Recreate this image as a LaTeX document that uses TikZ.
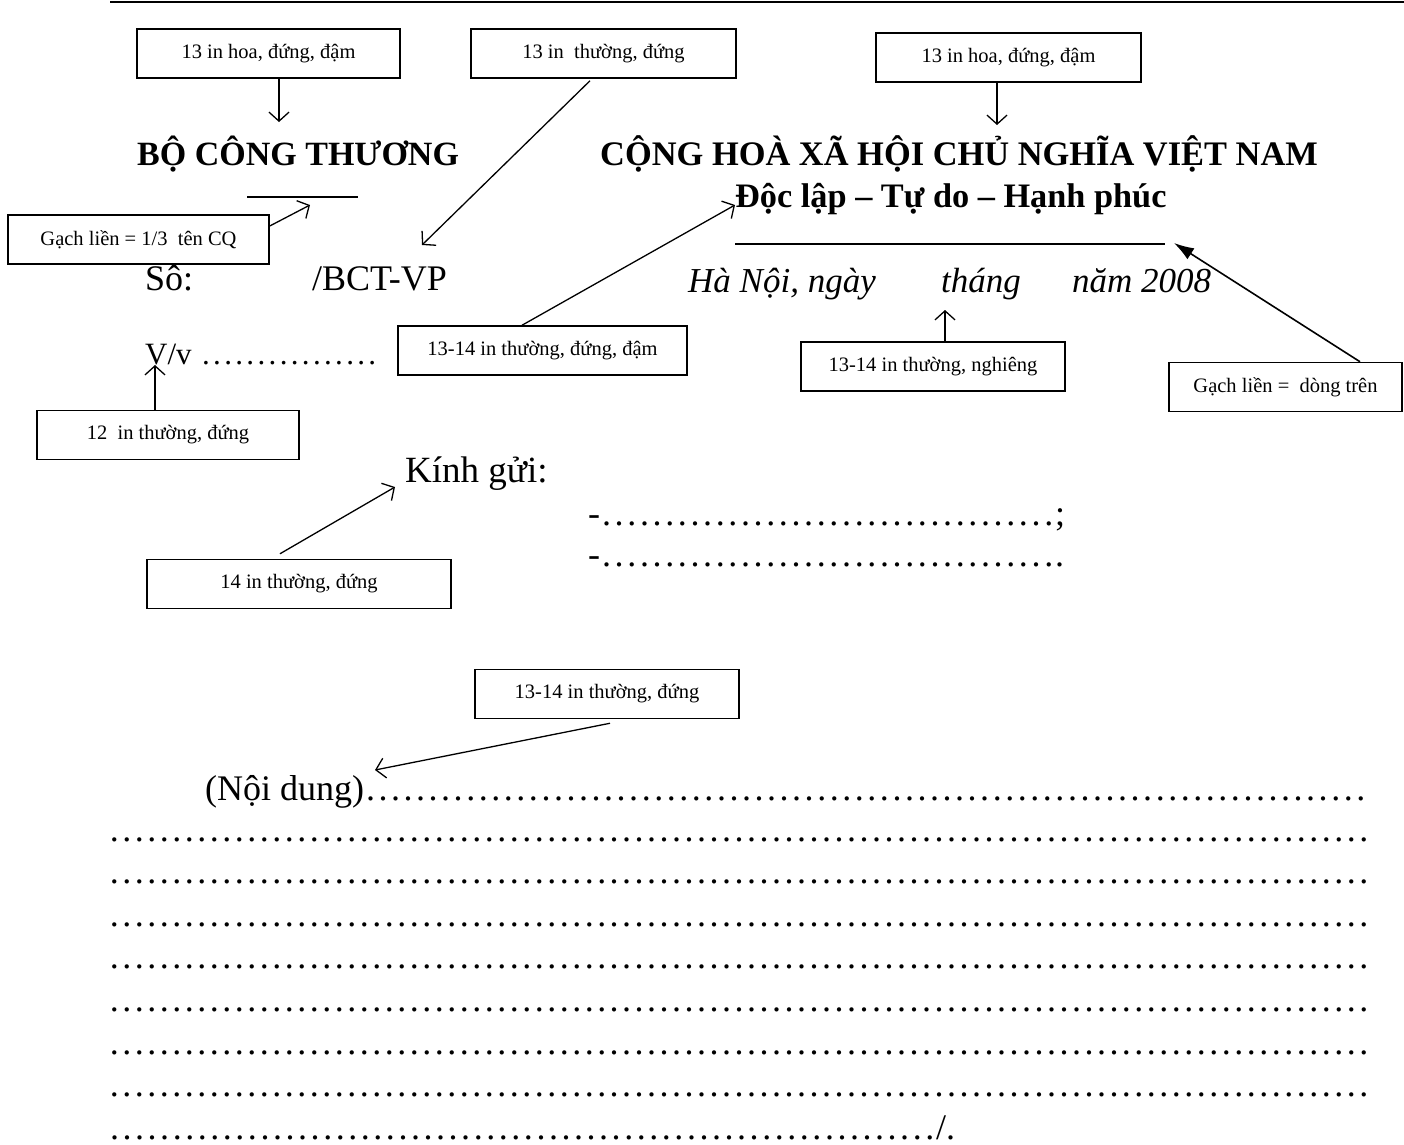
\documentclass[tikz,border=0pt]{standalone}
\usepackage{fontspec}
\setmainfont{Liberation Serif}
\usetikzlibrary{arrows.meta}
\newcommand{\fsz}[1]{\fontsize{#1}{#1}\selectfont}
\newcommand{\dotrow}[2]{\makebox[#1][l]{\xleaders\hbox to #2{\hss.\hss}\hfill}}
\begin{document}
\begin{tikzpicture}[x=1pt,y=-1pt,
  lbl/.style={draw, line width=1.5pt, minimum height=49pt, inner sep=0pt, font=\fsz{20.5}},
  txt/.style={anchor=base west, inner sep=0pt},
  conn/.style={line width=1.3pt, -{Straight Barb[length=9pt,width=20pt]}},
  connf/.style={line width=1.6pt, -{Latex[length=20pt,width=13pt]}},
  rule/.style={line width=1.5pt}]
\useasboundingbox (0,0) rectangle (1404,1144);
\fill[white] (0,0) rectangle (1404,1144);
% top rule
\draw[line width=2pt] (110,2) -- (1404,2);

% annotation boxes
\node[lbl, minimum width=263pt] (b1) at (268.5,53.5) {13 in hoa, đứng, đậm};
\node[lbl, minimum width=265pt] (b2) at (603.5,53.5) {13 in\ \ thường, đứng};
\node[lbl, minimum width=265pt] (b3) at (1008.5,57.5) {13 in hoa, đứng, đậm};
\node[lbl, minimum width=261pt] (b4) at (138.5,239.5) {Gạch liền = 1/3\ \ tên CQ};
\node[lbl, minimum width=289pt] (b5) at (542.5,350.5) {13-14 in thường, đứng, đậm};
\node[lbl, minimum width=264pt] (b6) at (933,366.5) {13-14 in thường, nghiêng};
\node[lbl, minimum width=233pt] (b7) at (1285.5,387) {Gạch liền =\ \ dòng trên};
\node[lbl, minimum width=262pt] (b8) at (168,435) {12\ \ in thường, đứng};
\node[lbl, minimum width=304pt] (b9) at (299,584) {14 in thường, đứng};
\node[lbl, minimum width=264pt] (b10) at (607,694) {13-14 in thường, đứng};

% document text
\node[txt, font=\fsz{34}\bfseries] (bo) at (137,165) {BỘ CÔNG THƯƠNG};
\node[txt, font=\fsz{34.4}\bfseries] (ch) at (600,165) {CỘNG HOÀ XÃ HỘI CHỦ NGHĨA VIỆT NAM};
\node[txt, font=\fsz{34.3}\bfseries] (dl) at (735,207) {Độc lập – Tự do – Hạnh phúc};
\node[txt, font=\fsz{36}] (so) at (145,290) {Sô:};
\node[txt, font=\fsz{36}] (bct) at (312,290) {/BCT-VP};
\node[txt, font=\fsz{35}\itshape] (hn) at (688,292) {Hà Nội, ngày};
\node[txt, font=\fsz{35}\itshape] (th) at (941,292) {tháng};
\node[txt, font=\fsz{35}\itshape] (nam) at (1072,292) {năm 2008};
\node[txt, font=\fsz{31}] (vv) at (145,364) {V/v};
\node[txt, font=\fsz{31}] (vvd) at (200,364) {\dotrow{178pt}{10.5pt}};
\node[txt, font=\fsz{37}] (kg) at (405,482) {Kính gửi:};
\node[txt, font=\fsz{36}] (k1) at (588,525) {-\dotrow{455pt}{12.4pt};};
\node[txt, font=\fsz{36}] (k2) at (588,566) {-\dotrow{455pt}{12.4pt}.};
\node[txt, font=\fsz{36}] (nd) at (205,800) {(Nội dung)\dotrow{1003pt}{12.4pt}};
\foreach \yy/\nm in {841/r2,883/r3,926/r4,968/r5,1011/r6,1054/r7,1096/r8}
  \node[txt, font=\fsz{36}] (\nm) at (108,\yy) {\dotrow{1262pt}{12.4pt}};
\node[txt, font=\fsz{36}] (r9) at (108,1139) {\dotrow{828pt}{12.4pt}/.};

% underlines
\draw[rule] (247,197) -- (358,197);
\draw[rule] (735,244) -- (1165,244);

% connector targets
\coordinate (t1) at (279,122);
\coordinate (t2) at (422,245);
\coordinate (t3) at (997,125);
\coordinate (t4) at (310,205);
\coordinate (t5) at (735,205);
\coordinate (t6) at (945,310);
\coordinate (t7) at (1174,243);
\coordinate (t8) at (155,365);
\coordinate (t9) at (395,487);
\coordinate (t10) at (375,770);

\draw[conn] ([xshift=10.5pt]b1.south) -- (t1);
\draw[conn] ([xshift=-13.5pt,yshift=-2pt]b2.south) -- (t2);
\draw[conn] ([xshift=-11.5pt]b3.south) -- (t3);
\draw[conn] ([yshift=13.5pt]b4.east) -- (t4);
\draw[conn] ([xshift=-20.5pt]b5.north) -- (t5);
\draw[conn] ([xshift=12pt]b6.north) -- (t6);
\draw[connf] ([xshift=74.5pt]b7.north) -- (t7);
\draw[conn] ([xshift=-13pt]b8.north) -- (t8);
\draw[conn] ([xshift=-19pt,yshift=5pt]b9.north) -- (t9);
\draw[conn] ([xshift=3pt,yshift=-4pt]b10.south) -- (t10);
\end{tikzpicture}
\end{document}
